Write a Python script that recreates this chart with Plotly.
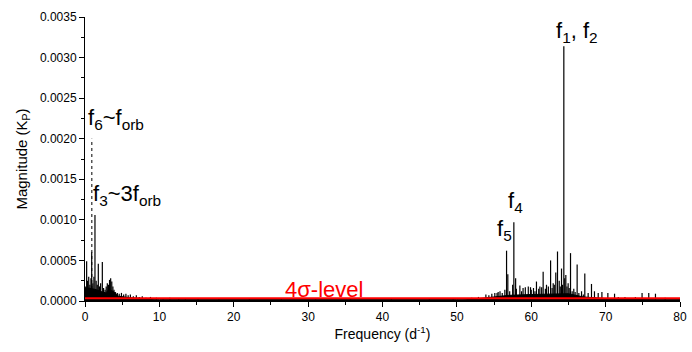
import plotly.graph_objects as go

# ---- data ----
peak_freq = [0.10, 0.22, 0.35, 0.50, 0.65, 0.80, 0.90, 1.05, 1.20, 1.34, 1.50, 1.65, 1.79, 1.95,
             2.10, 2.33, 2.50, 2.70, 2.85, 3.00, 3.15, 3.30, 3.45, 3.60, 3.75, 3.90, 4.10, 4.35,
             4.60, 4.90, 5.20, 5.50, 5.80, 6.10, 6.50, 6.90, 7.30, 7.70, 8.20, 8.80, 9.60, 10.5,
             11.4, 12.6, 13.5, 15.2, 18.0, 22.1, 26.4, 31.0, 35.7, 41.2, 46.3, 49.5,
             52.0, 52.9, 53.9, 54.3, 54.7, 55.1, 55.4, 55.55, 55.8, 56.1, 56.45, 56.68, 56.85,
             57.1, 57.5, 57.66, 57.9, 58.0, 58.47, 58.7, 58.9, 59.2, 59.6, 59.9, 60.0, 60.3,
             60.5, 60.7, 61.0, 61.16, 61.4, 61.6, 61.9, 62.05, 62.3, 62.6, 62.8, 62.95, 63.1,
             63.3, 63.53, 63.76, 63.9, 64.07, 64.2, 64.38, 64.5, 64.65, 64.8, 64.96, 65.1,
             65.28, 65.5, 65.72, 65.9, 66.17, 66.4, 66.76, 67.0, 67.2, 67.65, 68.1,
             68.5, 69.0, 69.5, 70.3, 71.2, 71.7, 72.6, 74.0, 74.9, 75.8, 76.7, 78.0]
peak_amp = [0.00018, 0.00049, 0.00025, 0.00030, 0.00020, 0.00028, 0.00060, 0.00022, 0.00030,
            0.00106, 0.00025, 0.00020, 0.00046, 0.00018, 0.00022, 0.00048, 0.00016, 0.00014,
            0.00018, 0.00022, 0.00020, 0.00026, 0.00028, 0.00024, 0.00018, 0.00014, 0.00011,
            0.00010, 0.00009, 0.00010, 0.00008, 0.00009, 0.00007, 0.00008, 0.00006, 0.00007,
            0.00005, 0.00006, 0.00004, 0.00005, 0.00004, 0.00003, 0.00004, 0.00003, 0.00003,
            0.00003, 0.00003, 0.00003, 0.00003, 0.00003, 0.00003, 0.00003, 0.00003, 0.00003,
            0.00004, 0.00005, 0.00008, 0.00007, 0.00009, 0.00010, 0.00010, 0.00011, 0.00012,
            0.00010, 0.00014, 0.00062, 0.00033,
            0.00012, 0.00020, 0.00097, 0.00028, 0.00015, 0.00019, 0.00012, 0.00016, 0.00017,
            0.00018, 0.00017, 0.00014, 0.00016,
            0.00012, 0.00024, 0.00015, 0.00018, 0.00017, 0.00036, 0.00015, 0.00020, 0.00018,
            0.00050, 0.00016, 0.00022, 0.00020,
            0.00035, 0.00061, 0.00025, 0.00018, 0.00040, 0.00020, 0.00314, 0.00028, 0.00032,
            0.00018, 0.00022, 0.00016,
            0.00059, 0.00012, 0.00015, 0.00011, 0.00045, 0.00010, 0.00012, 0.00008, 0.00034,
            0.00010, 0.00021,
            0.00012, 0.00010, 0.00011, 0.00010, 0.00009, 0.00005, 0.00005, 0.00005, 0.00010,
            0.00010, 0.00009, 0.00004]

# dense noise floor envelope
floor_freq = [0.0, 0.5, 1.0, 1.5, 2.0, 2.8, 3.2, 3.8, 4.5, 6.0, 8.0, 10.0, 50.0, 53.0, 55.0,
              57.0, 60.0, 63.0, 65.0, 67.0, 70.0, 80.0]
floor_amp = [0.00016, 0.00016, 0.00015, 0.00014, 0.00012, 0.00010, 0.00014, 0.00012, 0.00006,
             0.00004, 0.00003, 0.00002, 0.00002, 0.00003, 0.00005, 0.00007, 0.00008, 0.00009,
             0.00009, 0.00005, 0.00003, 0.00002]

sigma4_freq = [0.0, 80.0]
sigma4_amp = [0.000035, 0.000035]

f6_freq = [0.92, 0.92]
f6_amp = [0.0, 0.0020]

x_ticks = [0, 10, 20, 30, 40, 50, 60, 70, 80]
y_ticks = [0.0000, 0.0005, 0.0010, 0.0015, 0.0020, 0.0025, 0.0030, 0.0035]

# ---- build stems ----
sx, sy = [], []
for f, a in zip(peak_freq, peak_amp):
    sx += [f, f, None]
    sy += [0, a, None]

FONT = "Liberation Sans, Arial, sans-serif"

fig = go.Figure()
fig.add_trace(go.Scatter(x=floor_freq, y=floor_amp, mode="lines", fill="tozeroy",
                         line=dict(color="black", width=1), fillcolor="black",
                         hoverinfo="skip", showlegend=False))
fig.add_trace(go.Scatter(x=sx, y=sy, mode="lines", line=dict(color="black", width=1.2),
                         showlegend=False))
fig.add_trace(go.Scatter(x=f6_freq, y=f6_amp, mode="lines",
                         line=dict(color="black", width=1, dash="dot"), showlegend=False))
fig.add_trace(go.Scatter(x=sigma4_freq, y=sigma4_amp, mode="lines",
                         line=dict(color="#ff0000", width=2), showlegend=False))

ann_font = dict(family=FONT, size=22, color="black")
labels = [
    (66.2, 0.00331, "f<sub>1</sub>, f<sub>2</sub>"),
    (57.9, 0.00122, "f<sub>4</sub>"),
    (56.4, 0.00087, "f<sub>5</sub>"),
    (4.2, 0.00224, "f<sub>6</sub>~f<sub>orb</sub>"),
    (5.6, 0.00131, "f<sub>3</sub>~3f<sub>orb</sub>"),
]
for x, y, t in labels:
    fig.add_annotation(x=x, y=y, text=t, showarrow=False, font=ann_font,
                       xanchor="center", yanchor="middle")
fig.add_annotation(x=32.2, y=0.00014, text="4σ-level", showarrow=False,
                   font=dict(family=FONT, size=22, color="#ff0000"),
                   xanchor="center", yanchor="middle")

fig.update_layout(
    width=692, height=352,
    margin=dict(l=85, r=12, t=17, b=51, autoexpand=False),
    paper_bgcolor="white", plot_bgcolor="white",
    font=dict(family=FONT, size=12, color="black"),
    showlegend=False,
)
fig.update_xaxes(
    range=[0, 80], tickvals=x_ticks, ticktext=[str(v) for v in x_ticks],
    showgrid=False, zeroline=False, showline=True, linecolor="black", linewidth=1,
    ticks="outside", ticklen=5, tickcolor="black", automargin=False,
    minor=dict(dtick=5, ticks="outside", ticklen=3, tickcolor="black"),
    title=dict(text="Frequency (d<sup>-1</sup>)", font=dict(size=14), standoff=2),
    tickfont=dict(size=12),
)
fig.update_yaxes(
    range=[0, 0.0035], tickvals=y_ticks, ticktext=[f"{v:.4f}" for v in y_ticks],
    showgrid=False, zeroline=False, showline=True, linecolor="black", linewidth=1,
    ticks="outside", ticklen=5, tickcolor="black", automargin=False,
    minor=dict(dtick=0.00025, ticks="outside", ticklen=3, tickcolor="black"),
    title=dict(text="Magnitude (K<sub>P</sub>)", font=dict(size=15), standoff=8),
    tickfont=dict(size=12),
)

fig.write_html("out.html")
